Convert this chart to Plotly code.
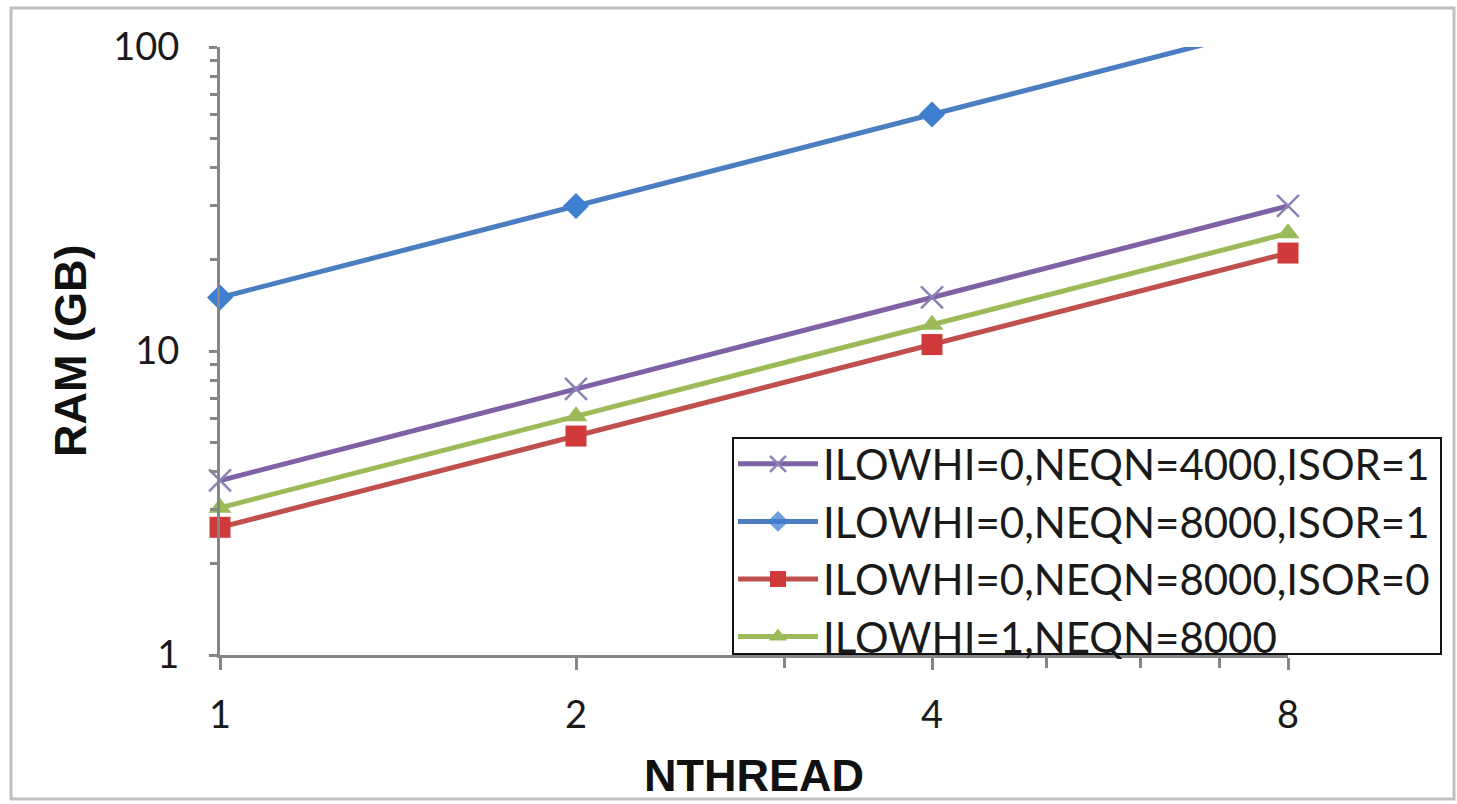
import plotly.graph_objects as go

# ---- data ----
nthread = [1, 2, 4, 8]
ram_4000_isor1 = [3.75, 7.5, 15, 30]
ram_8000_isor1 = [15, 30, 60, 120]
ram_8000_isor0 = [2.63, 5.25, 10.5, 21]
ram_lowhi1_8000 = [3.05, 6.1, 12.2, 24.4]

names = [
    "ILOWHI=0,NEQN=4000,ISOR=1",
    "ILOWHI=0,NEQN=8000,ISOR=1",
    "ILOWHI=0,NEQN=8000,ISOR=0",
    "ILOWHI=1,NEQN=8000",
]
x_ticks = [1, 2, 4, 8]
x_minor = [3, 5, 6, 7]
y_ticks = [1, 10, 100]
y_minor = [2, 3, 4, 5, 6, 7, 8, 9, 20, 30, 40, 50, 60, 70, 80, 90]

W, H = 1457, 804
L, R, T, B = 220, 1288, 47, 655
pw, ph = R - L, B - T

def px(x):
    return (x - L) / pw

def py(y):
    return (B - y) / ph

LW = 5
fig = go.Figure()
fig.add_trace(go.Scatter(
    x=nthread, y=ram_4000_isor1, name=names[0], mode="lines+markers",
    line=dict(color="#7F62A6", width=LW), cliponaxis=False,
    marker=dict(symbol="x-thin", size=22, line=dict(color="#8C82B4", width=2.5)),
))
# the last point lies above the axis range: hide its marker (line is clipped by the axis)
fig.add_trace(go.Scatter(
    x=nthread, y=ram_8000_isor1, name=names[1], mode="lines+markers",
    line=dict(color="#4A7EC0", width=LW), cliponaxis=False,
    marker=dict(symbol="diamond", size=20, color="#3F7FD0",
                opacity=[1 if v <= 100 else 0 for v in ram_8000_isor1]),
))
fig.add_trace(go.Scatter(
    x=nthread, y=ram_8000_isor0, name=names[2], mode="lines+markers",
    line=dict(color="#C0504D", width=LW), cliponaxis=False,
    marker=dict(symbol="square", size=21, color="#D03A3A"),
))
fig.add_trace(go.Scatter(
    x=nthread, y=ram_lowhi1_8000, name=names[3], mode="lines+markers",
    line=dict(color="#9BBB59", width=LW), cliponaxis=False,
    marker=dict(symbol="triangle-up", size=20, color="#9BBB59"),
))

axis_col = "#868686"
tick_font = dict(family="Lato, 'Open Sans', sans-serif", size=38, color="#1a1a1a")

fig.update_xaxes(
    type="log", range=[0, 0.90309], tickmode="array", tickvals=x_ticks,
    ticktext=[str(v) for v in x_ticks],
    showline=True, linecolor=axis_col, linewidth=3, showgrid=False, zeroline=False,
    ticks="outside", ticklen=12, tickwidth=3, tickcolor=axis_col,
    tickfont=tick_font, ticklabelstandoff=12,
    minor=dict(tickmode="array", tickvals=x_minor, ticks="outside", ticklen=10,
               tickwidth=3, tickcolor=axis_col, showgrid=False),
)
fig.update_yaxes(
    type="log", range=[0, 2], tickmode="array", tickvals=y_ticks,
    ticktext=[str(v) for v in y_ticks],
    showline=True, linecolor=axis_col, linewidth=3, showgrid=False, zeroline=False,
    ticks="outside", ticklen=8, tickwidth=3, tickcolor=axis_col,
    tickfont=tick_font, ticklabelstandoff=22,
    minor=dict(tickmode="array", tickvals=y_minor, ticks="outside", ticklen=7,
               tickwidth=3, tickcolor=axis_col, showgrid=False),
)

fig.update_layout(
    width=W, height=H,
    margin=dict(l=L, r=W - R, t=T, b=H - B, pad=0),
    paper_bgcolor="white", plot_bgcolor="white",
    showlegend=True,
    legend=dict(
        x=px(733), y=py(430), xanchor="left", yanchor="top",
        bgcolor="rgba(0,0,0,0)", borderwidth=0,
        font=dict(family="Lato, 'Open Sans', sans-serif", size=42, color="#1a1a1a"),
        tracegroupgap=0, itemwidth=80,
    ),
    annotations=[
        dict(text="<b>RAM (GB)</b>", xref="paper", yref="paper",
             x=px(70), y=0.5, textangle=-90, showarrow=False,
             font=dict(family="Liberation Sans, Arial, sans-serif", size=45, color="#111111"),
             xanchor="center", yanchor="middle"),
        dict(text="<b>NTHREAD</b>", xref="paper", yref="paper",
             x=0.5, y=py(776), showarrow=False,
             font=dict(family="Liberation Sans, Arial, sans-serif", size=45, color="#111111"),
             xanchor="center", yanchor="middle"),
    ],
    shapes=[
        dict(type="rect", xref="paper", yref="paper",
             x0=px(11), x1=px(1454), y0=py(799), y1=py(8),
             line=dict(color="#BFBFBF", width=3), fillcolor="rgba(0,0,0,0)", layer="below"),
        dict(type="rect", xref="paper", yref="paper",
             x0=px(733), x1=px(1441), y0=py(654), y1=py(438),
             line=dict(color="#111111", width=2), fillcolor="white", layer="above"),
    ],
)

fig.write_html("out.html")
